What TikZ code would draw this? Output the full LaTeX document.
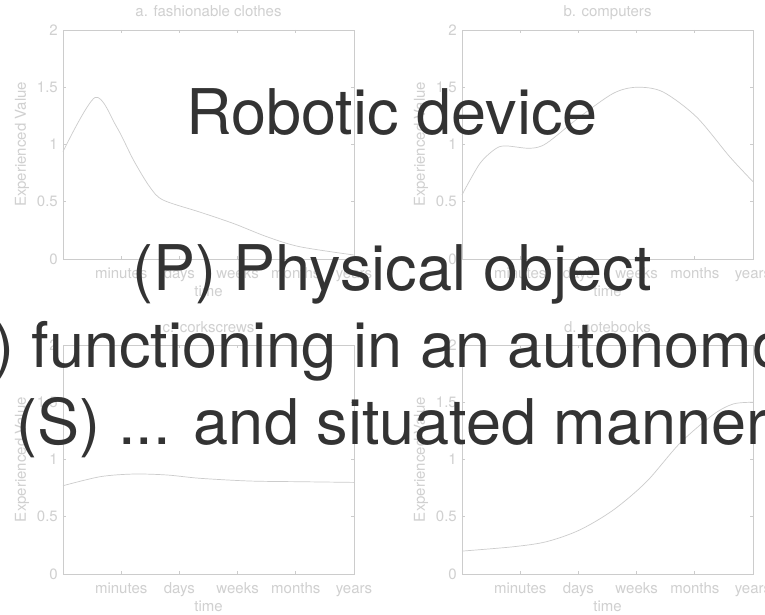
\documentclass[tikz,border=0pt]{standalone}
\usepackage{fontspec}
\setmainfont{TeX Gyre Heros}
\definecolor{axgray}{HTML}{CCCCCC}
\definecolor{txtgray}{HTML}{D0D0D0}
\definecolor{bigtext}{HTML}{333333}
\newcommand\mypanel[4]{%
  \begin{scope}[shift={(#1,#2)}]
    \draw[axline] (0,0) rectangle (291,229);
    \foreach \i in {1,2,3,4} {
      \draw[axline] (58.2*\i,229) -- ++(0,-3);
      \draw[axline] (58.2*\i,0) -- ++(0,3);
    }
    \foreach \j in {1,2,3} {
      \draw[axline] (0,229-57.25*\j) -- ++(3,0);
      \draw[axline] (291,229-57.25*\j) -- ++(-3,0);
    }
    \foreach \j/\l in {0/0,1/0.5,2/1,3/1.5,4/2} {
      \node[smalltxt, anchor=east] at (-5,229-57.25*\j) {\l};
    }
    \foreach \i/\l in {1/minutes,2/days,3/weeks,4/months,5/years} {
      \node[smalltxt, anchor=base] at (58.2*\i,248) {\l};
    }
    \node[smalltxt, anchor=base] at (145.5,266) {time};
    \node[smalltxt, rotate=90] at (-41,114.5) {Experienced Value};
    \node[smalltxt, anchor=base] at (145.5,-13) {#3};
    \begin{scope}[shift={(0pt,-229pt)}, x=58.2pt, y=114.5pt]
      \draw[curveline] plot[smooth] coordinates {#4};
    \end{scope}
  \end{scope}
}
\begin{document}
\begin{tikzpicture}[x=1pt,y=-1pt,
  axline/.style={draw=axgray, line width=0.8pt},
  curveline/.style={draw=axgray, line width=0.7pt},
  smalltxt/.style={text=txtgray, inner sep=0pt, font=\fontsize{15}{18}\selectfont},
  bigline/.style={text=bigtext, inner sep=0pt, anchor=base, font=\fontsize{63}{77}\selectfont}]
\useasboundingbox (0,0) rectangle (765,615);
\fill[white] (0,0) rectangle (765,615);
\mypanel{63}{30}{a. fashionable clothes}{(0,0.937) (0.55,1.41) (0.92,1.155) (1.21,0.865) (1.49,0.63) (1.72,0.515) (2.35,0.41) (2.93,0.31) (3.5,0.195) (4.07,0.107) (5,0.035)}
\mypanel{462}{30}{b. computers}{(0,0.56) (0.31,0.836) (0.59,0.967) (0.77,0.987) (1.17,0.967) (1.45,1.01) (2.02,1.24) (2.6,1.447) (3.0,1.50) (3.45,1.46) (4.03,1.24) (4.6,0.893) (5,0.675)}
\mypanel{63}{345}{c. corkscrews}{(0,0.771) (0.64,0.85) (1.21,0.873) (1.78,0.865) (2.35,0.836) (3.21,0.812) (4.07,0.806) (5,0.80)}
\mypanel{462}{345}{d. notebooks}{(0,0.2) (0.88,0.238) (1.45,0.282) (2.02,0.384) (2.6,0.559) (3.17,0.806) (3.74,1.14) (4.31,1.39) (4.66,1.485) (5,1.5)}
\node[bigline] (l1) at (392,135) {Robotic device};
\node[bigline] (l2) at (392,290) {(P) Physical object};
\node[bigline] (l3) at (392,367) {(A) functioning in an autonomous};
\node[bigline] (l4) at (392,444) {(S) ... and situated manner};
\end{tikzpicture}
\end{document}
